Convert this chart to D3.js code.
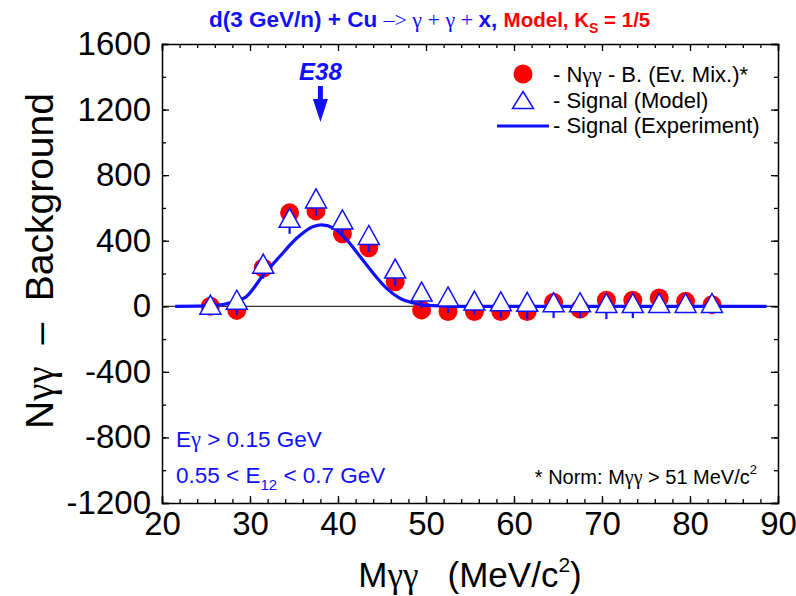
<!DOCTYPE html>
<html>
<head>
<meta charset="utf-8">
<script src="https://cdn.jsdelivr.net/npm/d3@7"></script>
<style>
  html, body { margin: 0; padding: 0; background: #fff; }
  svg { display: block; }
  text { font-family: "Liberation Sans", Arial, sans-serif; }
</style>
</head>
<body>
<svg id="chart" width="796" height="596"></svg>
<script>
// Invariant mass bins (MeV/c^2)
const massBins = [25.5, 28.5, 31.5, 34.5, 37.5, 40.5, 43.5, 46.5, 49.5, 52.5,
                  55.5, 58.5, 61.5, 64.5, 67.5, 70.5, 73.5, 76.5, 79.5, 82.5];
// N(gamma gamma) minus event-mixing background
const dataMinusBg = [0, -25, 234, 570, 582, 443, 357, 150, -22, -32,
                     -32, -32, -32, 24, -16, 37, 37, 51, 30, 10];
// Model signal and its (downward) uncertainty
const modelSignal = [10, 40, 260, 540, 658, 530, 435, 230, 90, 60,
                     35, 30, 27, 25, 25, 20, 20, 20, 20, 20];
const modelErrLow = [50, 92, 92, 98, 106, 94, 103, 105, 100, 100,
                     87, 100, 105, 97, 97, 98, 92, 50, 50, 50];
// Experimental signal shape
const expMass   = [21.5, 24, 26, 28, 29.6, 31.5, 33.4, 35.3, 37.2, 38.1, 39.5,
                   41, 42.5, 44, 45.5, 47, 48.6, 50.1, 53, 60, 88.7];
const expSignal = [0, 1, 5, 25, 60, 190, 305, 415, 487, 497, 477,
                   405, 304, 202, 111, 50, 20, 5, 0, 0, 0];
// Axes
const xDomain = [20, 90];
const yDomain = [-1200, 1600];
const xMajorTicks = [20, 30, 40, 50, 60, 70, 80, 90];
const yMajorTicks = [-1200, -800, -400, 0, 400, 800, 1200, 1600];
const xMinorTicks = d3.range(20, 90.1, 2);
const yMinorTicks = d3.range(-1200, 1600.1, 200);
const peakMass = 38;

const BLUE = "#1010ff";
const RED = "#ff0000";

const svg = d3.select("#chart");
const m = { left: 162, right: 778, top: 44, bottom: 503 };

const x = d3.scaleLinear().domain(xDomain).range([m.left, m.right]);
const y = d3.scaleLinear().domain(yDomain).range([m.bottom, m.top]);

// ----- axes (ticks point inward on all four sides) -----
function styleAxis(g) {
  g.selectAll("path").attr("stroke", "#000").attr("stroke-width", 1.5);
  g.selectAll("line").attr("stroke", "#000").attr("stroke-width", 1.3);
}
const tickFont = 33;
const plain = d => String(d);

svg.append("g").attr("transform", `translate(0,${m.bottom})`)
  .call(d3.axisBottom(x).tickValues(xMajorTicks).tickSize(-7).tickPadding(9).tickFormat(plain))
  .call(styleAxis)
  .call(g => g.selectAll("text").attr("font-size", tickFont).attr("fill", "#000")
      .attr("font-family", "Liberation Sans, Arial, sans-serif"));
svg.append("g").attr("transform", `translate(0,${m.bottom})`)
  .call(d3.axisBottom(x).tickValues(xMinorTicks).tickSize(-4).tickFormat(""))
  .call(styleAxis).call(g => g.select("path").remove());

svg.append("g").attr("transform", `translate(0,${m.top})`)
  .call(d3.axisTop(x).tickValues(xMajorTicks).tickSize(-7).tickFormat(""))
  .call(styleAxis);
svg.append("g").attr("transform", `translate(0,${m.top})`)
  .call(d3.axisTop(x).tickValues(xMinorTicks).tickSize(-4).tickFormat(""))
  .call(styleAxis).call(g => g.select("path").remove());

svg.append("g").attr("transform", `translate(${m.left},0)`)
  .call(d3.axisLeft(y).tickValues(yMajorTicks).tickSize(-7).tickPadding(11).tickFormat(plain))
  .call(styleAxis)
  .call(g => g.selectAll("text").attr("font-size", tickFont).attr("fill", "#000")
      .attr("font-family", "Liberation Sans, Arial, sans-serif"));
svg.append("g").attr("transform", `translate(${m.left},0)`)
  .call(d3.axisLeft(y).tickValues(yMinorTicks).tickSize(-4).tickFormat(""))
  .call(styleAxis).call(g => g.select("path").remove());

svg.append("g").attr("transform", `translate(${m.right},0)`)
  .call(d3.axisRight(y).tickValues(yMajorTicks).tickSize(-7).tickFormat(""))
  .call(styleAxis);
svg.append("g").attr("transform", `translate(${m.right},0)`)
  .call(d3.axisRight(y).tickValues(yMinorTicks).tickSize(-4).tickFormat(""))
  .call(styleAxis).call(g => g.select("path").remove());

// zero reference line
svg.append("line")
  .attr("x1", m.left).attr("x2", m.right)
  .attr("y1", y(0)).attr("y2", y(0))
  .attr("stroke", "#000").attr("stroke-width", 1);

// ----- data -----
const pts = massBins.map((mb, i) => ({
  m: mb, d: dataMinusBg[i], s: modelSignal[i], e: modelErrLow[i]
}));

// background-subtracted data (red dots)
svg.append("g").selectAll("circle").data(pts).join("circle")
  .attr("cx", d => x(d.m)).attr("cy", d => y(d.d)).attr("r", 9.5)
  .attr("fill", RED);

// experimental signal curve
const expPts = expMass.map((mv, i) => [mv, expSignal[i]]);
svg.append("path").datum(expPts)
  .attr("d", d3.line().x(d => x(d[0])).y(d => y(d[1])).curve(d3.curveMonotoneX))
  .attr("fill", "none").attr("stroke", BLUE).attr("stroke-width", 3.2);

// model uncertainty (downward bars)
svg.append("g").selectAll("line").data(pts).join("line")
  .attr("x1", d => x(d.m)).attr("x2", d => x(d.m))
  .attr("y1", d => y(d.s)).attr("y2", d => y(d.s - d.e))
  .attr("stroke", BLUE).attr("stroke-width", 2.2);

// model signal (open triangles)
const tri = (cx, cy, w, h) =>
  `M${cx},${cy - h / 2}L${cx + w / 2},${cy + h / 2}L${cx - w / 2},${cy + h / 2}Z`;
svg.append("g").selectAll("path").data(pts).join("path")
  .attr("d", d => tri(x(d.m), y(d.s), 21, 19))
  .attr("fill", "#fff").attr("stroke", BLUE).attr("stroke-width", 1.5)
  .attr("stroke-linejoin", "miter");

// ----- peak marker -----
const ax = x(peakMass);
svg.append("text").attr("x", ax).attr("y", 80).attr("text-anchor", "middle")
  .attr("font-size", 24).attr("font-weight", "bold").attr("font-style", "italic")
  .attr("fill", BLUE).text("E38");
svg.append("path")
  .attr("d", `M${ax - 2.5},86L${ax + 2.5},86L${ax + 2.5},99L${ax + 7.5},99L${ax},122L${ax - 7.5},99L${ax - 2.5},99Z`)
  .attr("fill", BLUE);

// ----- title -----
const title = svg.append("text").attr("x", 209).attr("y", 27).attr("font-size", 22.5);
title.append("tspan").attr("font-weight", "bold").attr("fill", BLUE).text("d(3 GeV/n) + Cu ");
title.append("tspan").attr("fill", BLUE).attr("font-family", "Liberation Serif, serif")
  .attr("font-size", 22).text("\u2013> \u03b3 + \u03b3 + ");
title.append("tspan").attr("font-weight", "bold").attr("fill", BLUE).text("x,  ");
title.append("tspan").attr("font-weight", "bold").attr("fill", RED).attr("font-size", 20.5).text("Model, K");
title.append("tspan").attr("font-weight", "bold").attr("fill", RED).attr("font-size", 14)
  .attr("dy", 6).text("S");
title.append("tspan").attr("font-weight", "bold").attr("fill", RED).attr("font-size", 20.5)
  .attr("dy", -6).text(" = 1/5");

// ----- legend -----
const lg = svg.append("g");
const lgFont = 22;
lg.append("circle").attr("cx", 523).attr("cy", 74).attr("r", 9.5).attr("fill", RED);
lg.append("path").attr("d", tri(523, 100, 21, 17))
  .attr("fill", "#fff").attr("stroke", BLUE).attr("stroke-width", 1.5);
lg.append("line").attr("x1", 497).attr("x2", 549).attr("y1", 126).attr("y2", 126)
  .attr("stroke", BLUE).attr("stroke-width", 3.2);
const l1 = lg.append("text").attr("x", 553).attr("y", 81.5).attr("font-size", lgFont);
l1.append("tspan").text("- N");
l1.append("tspan").attr("font-family", "Liberation Serif, serif").text("\u03b3\u03b3");
l1.append("tspan").text(" - B. (Ev. Mix.)*");
lg.append("text").attr("x", 553).attr("y", 107.5).attr("font-size", lgFont).text("- Signal (Model)");
lg.append("text").attr("x", 553).attr("y", 133).attr("font-size", lgFont).text("- Signal (Experiment)");

// ----- cut annotations -----
const annFont = 22.5;
const c1 = svg.append("text").attr("x", 176).attr("y", 447).attr("font-size", annFont).attr("fill", BLUE);
c1.append("tspan").text("E");
c1.append("tspan").attr("font-family", "Liberation Serif, serif").text("\u03b3");
c1.append("tspan").text(" > 0.15 GeV");
const c2 = svg.append("text").attr("x", 176).attr("y", 483).attr("font-size", annFont).attr("fill", BLUE);
c2.append("tspan").text("0.55 < E");
c2.append("tspan").attr("font-size", 15).attr("dy", 7).text("12");
c2.append("tspan").attr("dy", -7).text(" < 0.7 GeV");

const nrm = svg.append("text").attr("x", 757).attr("y", 484).attr("text-anchor", "end")
  .attr("font-size", 20).attr("fill", "#000");
nrm.append("tspan").text("* Norm: M");
nrm.append("tspan").attr("font-family", "Liberation Serif, serif").text("\u03b3\u03b3");
nrm.append("tspan").text(" > 51 MeV/c");
nrm.append("tspan").attr("font-size", 13).attr("dy", -10).text("2");

// ----- axis titles -----
const xt = svg.append("text").attr("x", 470).attr("y", 587).attr("text-anchor", "middle")
  .attr("font-size", 35).attr("fill", "#000");
xt.append("tspan").text("M");
xt.append("tspan").attr("font-family", "Liberation Serif, serif").text("\u03b3\u03b3");
xt.append("tspan").text("\u00a0\u00a0\u00a0(MeV/c");
xt.append("tspan").attr("font-size", 21).attr("dy", -15).text("2");
xt.append("tspan").attr("dy", 15).text(")");

const yt = svg.append("text").attr("transform", "translate(53,261) rotate(-90)")
  .attr("text-anchor", "middle").attr("font-size", 39).attr("fill", "#000");
yt.append("tspan").text("N");
yt.append("tspan").attr("font-family", "Liberation Serif, serif").text("\u03b3\u03b3");
yt.append("tspan").text("\u00a0\u00a0\u2013\u00a0\u00a0Background");
</script>
</body>
</html>
